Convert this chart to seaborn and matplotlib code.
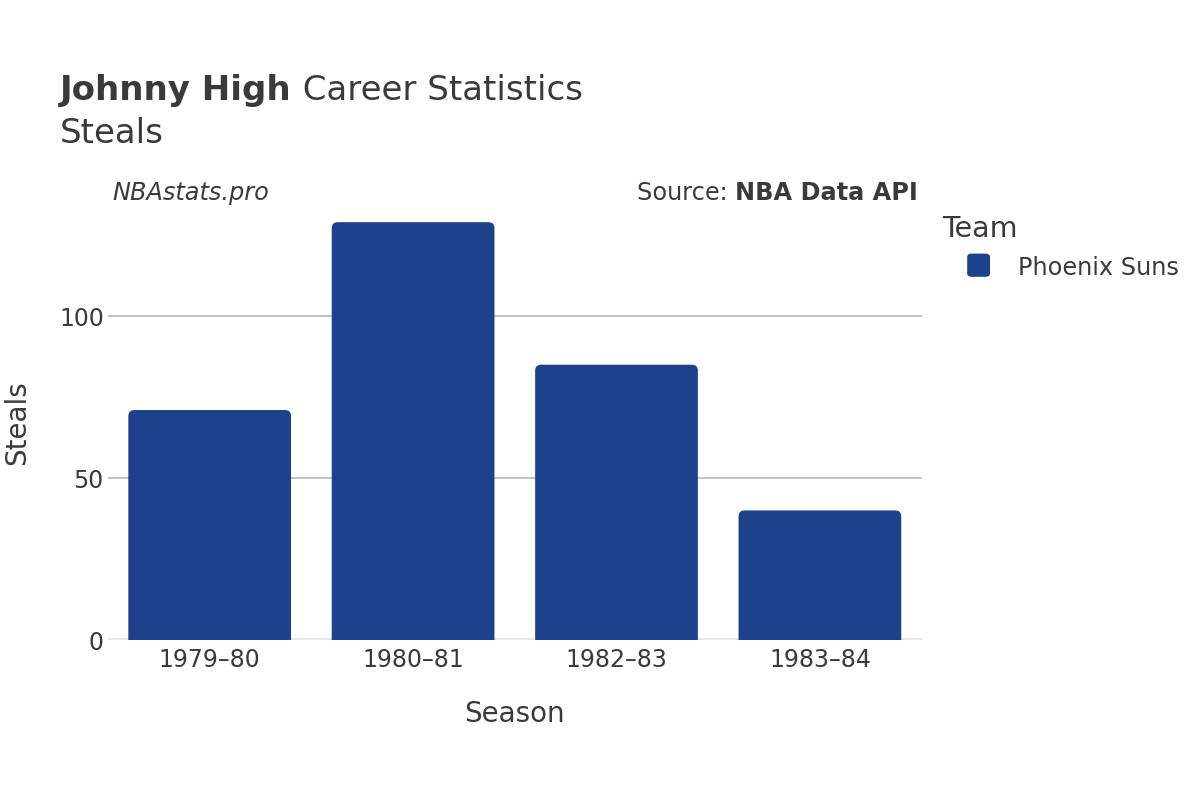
import matplotlib
matplotlib.use("Agg")
import matplotlib.pyplot as plt
from matplotlib.patches import FancyBboxPatch, PathPatch
from matplotlib.path import Path
import seaborn as sns
import pandas as pd

seasons = ["1979–80", "1980–81", "1982–83", "1983–84"]
steals = [71, 129, 85, 40]
teams = ["Phoenix Suns"] * 4
team_colors = {"Phoenix Suns": "#1d428a"}

df = pd.DataFrame({"Season": seasons, "Steals": steals, "Team": teams})

sns.set_theme(style="white")
plt.rcParams["font.family"] = ["DejaVu Sans"]
TXT = "#3a3a3a"

fig = plt.figure(figsize=(12, 8), dpi=100)
ax = fig.add_axes([0.09, 0.2, 0.678, 0.5425])

sns.barplot(data=df, x="Season", y="Steals", hue="Team", palette=team_colors,
            width=0.8, saturation=1, legend=False, ax=ax, zorder=3)

ax.set_xlim(-0.5, 3.5)
ax.set_ylim(0, 134)
ax.set_yticks([0, 50, 100])
ax.grid(axis="y", color="#b8b8b8", linewidth=1.2, zorder=0)
ax.grid(axis="x", visible=False)
for s in ax.spines.values():
    s.set_visible(False)
ax.axhline(0, color="#e8e8ec", linewidth=3, zorder=2)

# rounded top corners, square bottom (single path per bar)
fig.canvas.draw()
bbox = ax.get_window_extent()
xper = 4.0 / bbox.width
yper = 134.0 / bbox.height
r_px = 6
rx, ry = r_px * xper, r_px * yper
for p in list(ax.patches):
    x, y, w, h = p.get_x(), p.get_y(), p.get_width(), p.get_height()
    col = p.get_facecolor()
    p.set_visible(False)
    top = y + h
    verts = [(x, y), (x, top - ry), (x, top), (x + rx, top),
             (x + w - rx, top), (x + w, top), (x + w, top - ry),
             (x + w, y), (x, y)]
    codes = [Path.MOVETO, Path.LINETO, Path.CURVE3, Path.CURVE3,
             Path.LINETO, Path.CURVE3, Path.CURVE3, Path.LINETO, Path.CLOSEPOLY]
    ax.add_patch(PathPatch(Path(verts, codes), facecolor=col, edgecolor="none", zorder=3))

ax.tick_params(axis="x", labelsize=17, colors=TXT, length=0, pad=6)
ax.tick_params(axis="y", labelsize=17, colors=TXT, length=0, pad=3)
ax.set_xlabel("Season", fontsize=20, color=TXT)
ax.set_ylabel("Steals", fontsize=20, color=TXT)
ax.xaxis.set_label_coords(0.5, -0.138)
ax.yaxis.set_label_coords(-0.0946, 0.5)

t1 = fig.text(0.05, 0.875, "Johnny High", fontsize=24.5, fontweight="bold", color=TXT, va="baseline")
fig.canvas.draw()
e1 = t1.get_window_extent()
fig.text(e1.x1 / fig.bbox.width, 0.875, " Career Statistics", fontsize=24.5, color=TXT, va="baseline")
fig.text(0.05, 0.821, "Steals", fontsize=24.5, color=TXT, va="baseline")

fig.text(0.094, 0.75, "NBAstats.pro", fontsize=17.3, style="italic", color=TXT, va="baseline")
t = fig.text(0.765, 0.75, "NBA Data API", fontsize=17.3, fontweight="bold", color=TXT,
             va="baseline", ha="right")
fig.canvas.draw()
tb = t.get_window_extent()
fig.text(tb.x0 / fig.bbox.width, 0.75, "Source: ", fontsize=17.3, color=TXT,
         va="baseline", ha="right")

fig.text(0.785, 0.704, "Team", fontsize=20.5, color=TXT, va="baseline")
fig.patches.append(FancyBboxPatch((0.806, 0.654), 0.019, 0.029,
                                  boxstyle="round,pad=0,rounding_size=0.004",
                                  transform=fig.transFigure, facecolor="#1d428a",
                                  edgecolor="none", figure=fig))
fig.text(0.848, 0.656, "Phoenix Suns", fontsize=17.3, color=TXT, va="baseline")

fig.savefig("out.png", dpi=100)
